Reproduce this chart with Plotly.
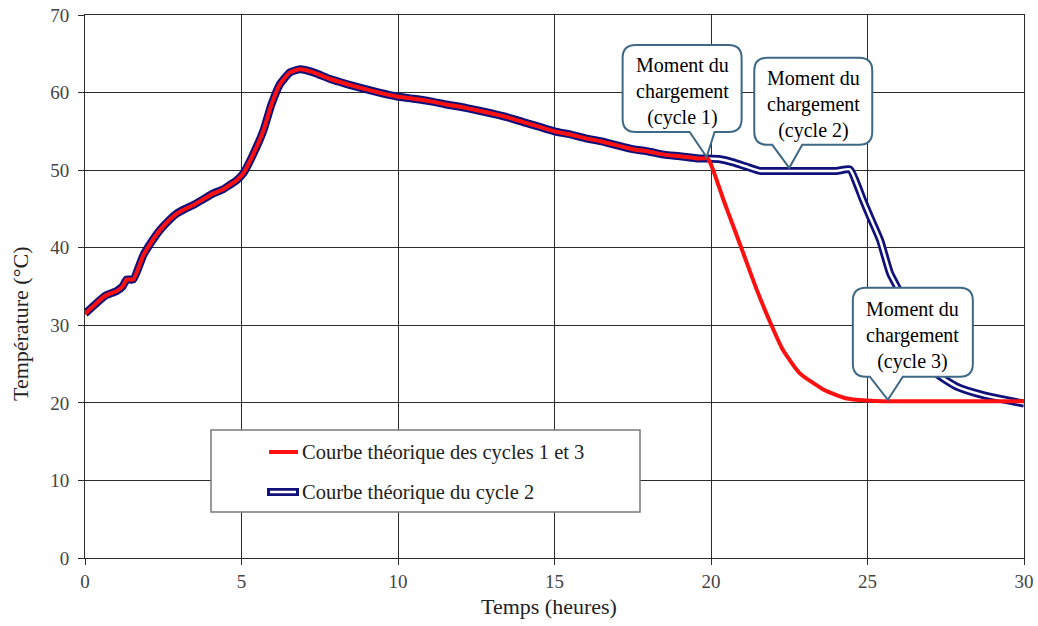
import plotly.graph_objects as go

# ---------------- data ----------------
time_common = [0, 0.3, 0.64, 1.0, 1.2, 1.33, 1.54, 1.86, 2.1, 2.4, 2.7, 2.93, 3.2, 3.46,
               3.8, 4.1, 4.4, 4.63, 4.85, 5.06, 5.38, 5.7, 5.96, 6.23, 6.55, 6.87, 7.3,
               7.83, 8.36, 8.9, 9.4, 9.96, 10.5, 11.0, 11.5, 12.2, 13.0, 13.5, 14.0, 14.5,
               15.0, 15.5, 16.0, 16.5, 17.0, 17.5, 18.0, 18.5, 19.0, 19.6, 19.9]
temp_common = [31.5, 32.6, 33.8, 34.4, 35.0, 35.9, 35.9, 39.0, 40.6, 42.3, 43.6, 44.4, 45.0, 45.5,
               46.3, 47.0, 47.5, 48.1, 48.7, 49.6, 52.1, 55.1, 58.5, 61.1, 62.6, 63.0, 62.6,
               61.75, 61.1, 60.5, 60.0, 59.5, 59.2, 58.9, 58.5, 58.0, 57.3, 56.8, 56.2, 55.6,
               55.0, 54.6, 54.1, 53.7, 53.2, 52.7, 52.4, 52.0, 51.8, 51.5, 51.5]

time_cycle13_tail = [20.07, 20.4, 20.7, 21.03, 21.47, 21.9, 22.3, 22.84, 23.6, 24.3, 24.97,
                     25.7, 27.0, 28.5, 30.0]
temp_cycle13_tail = [50.0, 46.15, 42.9, 39.3, 34.5, 30.3, 26.8, 23.8, 21.7, 20.6, 20.3,
                     20.2, 20.2, 20.2, 20.2]

time_cycle2_tail = [20.3, 20.71, 21.1, 21.57, 22.0, 23.0, 24.0, 24.44, 24.65, 24.85, 25.08,
                    25.4, 25.72, 26.04, 26.4, 26.8, 27.2, 27.85, 28.7, 30.0]
temp_cycle2_tail = [51.4, 51.0, 50.5, 49.9, 49.9, 49.9, 49.9, 50.1, 48.3, 46.2, 44.0,
                    41.0, 36.7, 34.2, 30.0, 26.5, 23.8, 22.1, 21.0, 19.9]

series_names = ["Courbe théorique des cycles 1 et 3", "Courbe théorique du cycle 2"]

# callouts: (time, temperature) each one points at, and its label
callout_times = [19.86, 22.5, 25.65]
callout_temps = [51.7, 50.3, 20.4]
callout_labels = ["Moment du<br>chargement<br>(cycle 1)",
                  "Moment du<br>chargement<br>(cycle 2)",
                  "Moment du<br>chargement<br>(cycle 3)"]

x_ticks = [0, 5, 10, 15, 20, 25, 30]
y_ticks = [0, 10, 20, 30, 40, 50, 60, 70]

# ---------------- styling / layout constants ----------------
W, H = 1038, 626
PL, PR, PT, PB = 85, 1024, 15, 558          # plot area in page pixels
ML, MT = PL, PT
MR, MB = W - PR, H - PB
PW, PH = PR - PL, PB - PT
XR, YR = (0, 30), (0, 70)
RED = "#FF1010"
NAVY = "#10107A"
CALLOUT = "#3E6886"
FONT = "Liberation Serif, Times New Roman, serif"

x13 = time_common + time_cycle13_tail
y13 = temp_common + temp_cycle13_tail
x2 = time_common + time_cycle2_tail
y2 = temp_common + temp_cycle2_tail

fig = go.Figure()
fig.add_trace(go.Scatter(x=x2, y=y2, mode="lines", name=series_names[1],
                         line=dict(color=NAVY, width=8, shape="spline", smoothing=0.5),
                         showlegend=False, hoverinfo="skip"))
fig.add_trace(go.Scatter(x=x2, y=y2, mode="lines", name=series_names[1],
                         line=dict(color="white", width=2.5, shape="spline", smoothing=0.5),
                         showlegend=False))
fig.add_trace(go.Scatter(x=x13, y=y13, mode="lines", name=series_names[0],
                         line=dict(color=RED, width=4, shape="spline", smoothing=0.5),
                         showlegend=False))


def px_to_dx(dpx):
    return dpx * (XR[1] - XR[0]) / PW


def px_to_dy(dpx):
    return dpx * (YR[1] - YR[0]) / PH


# callout geometry in pixels relative to the tip: (left, right, top, bottom, base_l, base_r)
callout_geom = [(-84, 35, -112, -25, -17, 8),
                (-35, 83, -110, -23, -17, 13),
                (-35, 85, -112, -23, -18, 15)]
shapes = []
annotations = []
r = 13
for tx, ty, lab, g in zip(callout_times, callout_temps, callout_labels, callout_geom):
    L, R_, T, B, bl, br = g

    def P(dx, dy):
        return f"{tx + px_to_dx(dx):.4f},{ty - px_to_dy(dy):.4f}"
    path = (f"M {P(L + r, T)} L {P(R_ - r, T)} Q {P(R_, T)} {P(R_, T + r)} "
            f"L {P(R_, B - r)} Q {P(R_, B)} {P(R_ - r, B)} "
            f"L {P(br, B)} L {P(0, 0)} L {P(bl, B)} "
            f"L {P(L + r, B)} Q {P(L, B)} {P(L, B - r)} "
            f"L {P(L, T + r)} Q {P(L, T)} {P(L + r, T)} Z")
    shapes.append(dict(type="path", path=path, xref="x", yref="y",
                       line=dict(color=CALLOUT, width=2), fillcolor="white", layer="above"))
    annotations.append(dict(x=tx + px_to_dx((L + R_) / 2), y=ty - px_to_dy((T + B) / 2 + 3),
                            xref="x", yref="y", text=lab, showarrow=False,
                            xanchor="center", yanchor="middle",
                            font=dict(family=FONT, size=20, color="black"), align="center"))


# page pixel -> paper coords
def pxx(p):
    return (p - PL) / PW


def pxy(p):
    return (PB - p) / PH


shapes.append(dict(type="rect", xref="paper", yref="paper", x0=pxx(211), x1=pxx(640),
                   y0=pxy(512), y1=pxy(430), line=dict(color="#7a7a7a", width=1.5),
                   fillcolor="white", layer="above"))
shapes.append(dict(type="line", xref="paper", yref="paper", x0=pxx(269), x1=pxx(298),
                   y0=pxy(452), y1=pxy(452), line=dict(color=RED, width=4), layer="above"))
shapes.append(dict(type="line", xref="paper", yref="paper", x0=pxx(267), x1=pxx(299),
                   y0=pxy(492), y1=pxy(492), line=dict(color=NAVY, width=8), layer="above"))
shapes.append(dict(type="line", xref="paper", yref="paper", x0=pxx(270), x1=pxx(296),
                   y0=pxy(492), y1=pxy(492), line=dict(color="white", width=2.5), layer="above"))
for name, ypx in zip(series_names, [452, 492]):
    annotations.append(dict(x=pxx(300), y=pxy(ypx), xref="paper", yref="paper", text=name,
                            showarrow=False, xanchor="left", yanchor="middle",
                            font=dict(family=FONT, size=20.5, color="#222")))

# axis titles
annotations.append(dict(x=pxx(549), y=pxy(606), xref="paper", yref="paper",
                        text="Temps (heures)", showarrow=False,
                        xanchor="center", yanchor="middle",
                        font=dict(family=FONT, size=22, color="#222")))
annotations.append(dict(x=pxx(20), y=pxy(324), xref="paper", yref="paper",
                        text="Température (°C)", showarrow=False, textangle=-90,
                        xanchor="center", yanchor="middle",
                        font=dict(family=FONT, size=22, color="#222")))

axis_common = dict(showgrid=True, gridcolor="#2b2b2b", gridwidth=1, showline=True,
                   linecolor="#2b2b2b", linewidth=1, mirror=True, ticks="outside",
                   ticklen=6, tickcolor="#2b2b2b", zeroline=False, automargin=False,
                   ticklabeloverflow="allow",
                   tickfont=dict(family=FONT, size=19, color="#444"))

fig.update_layout(
    width=W, height=H, margin=dict(l=ML, r=MR, t=MT, b=MB, autoexpand=False),
    paper_bgcolor="white", plot_bgcolor="white",
    xaxis=dict(range=list(XR), tickvals=x_ticks, **axis_common),
    yaxis=dict(range=list(YR), tickvals=y_ticks, ticklabelstandoff=5, **axis_common),
    shapes=shapes, annotations=annotations, showlegend=False,
)

fig.write_html("out.html", config={"displayModeBar": False},
               post_script="document.body.style.margin='0';document.body.style.overflow='hidden';")
